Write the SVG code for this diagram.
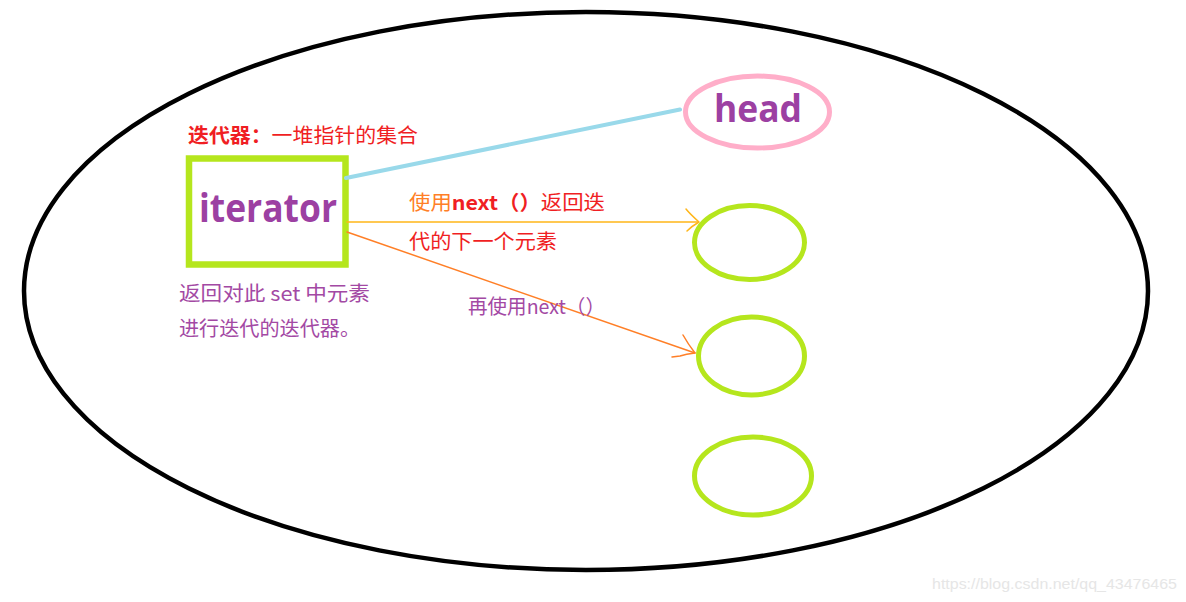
<svg xmlns="http://www.w3.org/2000/svg" width="1186" height="602" viewBox="0 0 1186 602">
<style>
.cjk{font-family:"Noto Sans CJK SC","Noto Sans",sans-serif;font-size:20px}
.red{fill:#f01e23}
.pur{fill:#a349a4}
.org{fill:#ff7f27}
.big{font-family:"Open Sans","Noto Sans",sans-serif;font-weight:bold;fill:#9c40a2}
.green{fill:none;stroke:#b5e61d;stroke-width:5}
</style>
<rect width="1186" height="602" fill="#ffffff"/>
<g id="set">
<ellipse cx="586" cy="291" rx="562" ry="279" fill="none" stroke="#000" stroke-width="4.5"/>
</g>
<g id="title">
<text class="cjk red" x="188" y="143" textLength="230" lengthAdjust="spacingAndGlyphs"><tspan font-weight="bold">迭代器：</tspan>一堆指针的集合</text>
</g>
<g id="iterator">
<rect x="189" y="158.5" width="156.5" height="106" fill="none" stroke="#b5e61d" stroke-width="6.5"/>
<text class="big" x="199" y="222" font-size="39" textLength="138" lengthAdjust="spacingAndGlyphs">iterator</text>
</g>
<g id="iterator-desc">
<text class="cjk pur" x="179" y="301" textLength="191" lengthAdjust="spacingAndGlyphs">返回对此 set 中元素</text>
<text class="cjk pur" x="179" y="336" textLength="181" lengthAdjust="spacingAndGlyphs">进行迭代的迭代器。</text>
</g>
<g id="head">
<ellipse cx="757.5" cy="112" rx="72" ry="36" fill="none" stroke="#ffaec9" stroke-width="5"/>
<text class="big" x="714" y="122" font-size="38" textLength="88" lengthAdjust="spacingAndGlyphs">head</text>
</g>
<g id="element1">
<ellipse class="green" cx="749.5" cy="242.5" rx="55" ry="37"/>
</g>
<g id="element2">
<ellipse class="green" cx="751.5" cy="356" rx="53" ry="39"/>
</g>
<g id="element3">
<ellipse class="green" cx="753" cy="476" rx="58.5" ry="39"/>
</g>
<g id="connectors" fill="none" stroke-linecap="round" stroke-linejoin="round">
<line x1="346" y1="178" x2="680" y2="109.5" stroke="#99d9ea" stroke-width="4"/>
<line x1="347" y1="222" x2="698" y2="222" stroke="#ffb619" stroke-width="1.5"/>
<path d="M686 209 Q690 214 699 222 Q692 226 687 231" stroke="#ffb619" stroke-width="1.5"/>
<line x1="347" y1="232" x2="695" y2="353" stroke="#ff7f27" stroke-width="1.5"/>
<path d="M683 335 Q688 344 695 353 Q686 354 680 356 L672 357" stroke="#ff7f27" stroke-width="1.5"/>
</g>
<g id="labels">
<text class="cjk" x="409" y="210" textLength="196" lengthAdjust="spacingAndGlyphs"><tspan class="org">使用</tspan><tspan class="red" font-weight="bold">next（）</tspan><tspan class="red">返回迭</tspan></text>
<text class="cjk red" x="409" y="249" textLength="148" lengthAdjust="spacingAndGlyphs">代的下一个元素</text>
<text class="cjk pur" x="468" y="314" textLength="137" lengthAdjust="spacingAndGlyphs">再使用next（）</text>
</g>
<text x="932" y="589" font-family="'Liberation Sans',Arial,sans-serif" font-size="14" fill="#e6e6e6" textLength="245" lengthAdjust="spacingAndGlyphs">https://blog.csdn.net/qq_43476465</text>
</svg>
